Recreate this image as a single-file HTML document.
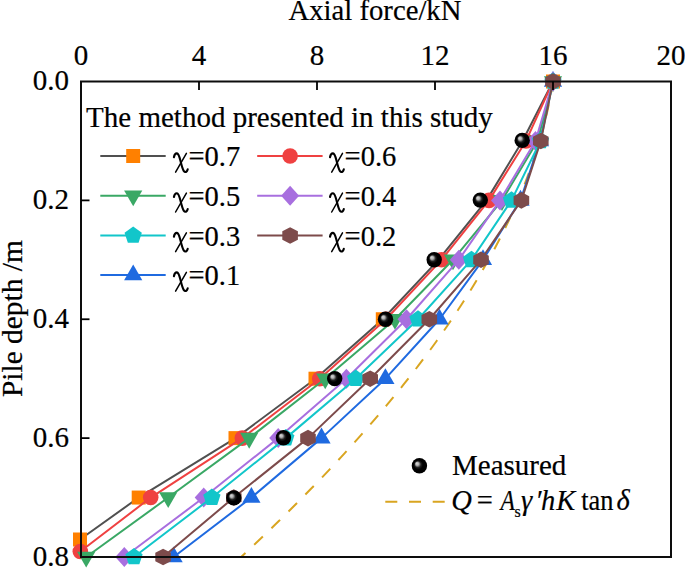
<!DOCTYPE html>
<html><head><meta charset="utf-8"><style>
html,body{margin:0;padding:0;background:#fff;}
body{width:685px;height:569px;overflow:hidden;}
svg{display:block;}
text{stroke:#000;stroke-width:0.2px;}
</style></head><body>
<svg width="685" height="569" viewBox="0 0 685 569">
<defs><radialGradient id="ballg" cx="0.5" cy="0.5" r="0.5" fx="0.32" fy="0.34"><stop offset="0" stop-color="#d8d8d8"/><stop offset="0.2" stop-color="#b4b4b4"/><stop offset="0.42" stop-color="#202020"/><stop offset="0.6" stop-color="#000"/><stop offset="1" stop-color="#000"/></radialGradient><clipPath id="clip"><rect x="60" y="60" width="640" height="520"/></clipPath></defs>
<path d="M241.13,557.00 L245.41,553.00 L249.67,549.01 L253.91,545.01 L258.12,541.02 L262.31,537.02 L266.48,533.03 L270.63,529.03 L274.75,525.03 L278.85,521.04 L282.92,517.04 L286.97,513.05 L291.00,509.05 L295.00,505.05 L298.98,501.06 L302.93,497.06 L306.86,493.07 L310.76,489.07 L314.64,485.08 L318.49,481.08 L322.32,477.08 L326.12,473.09 L329.90,469.09 L333.65,465.10 L337.38,461.10 L341.08,457.11 L344.75,453.11 L348.40,449.11 L352.02,445.12 L355.61,441.12 L359.18,437.13 L362.72,433.13 L366.24,429.13 L369.73,425.14 L373.19,421.14 L376.62,417.15 L380.02,413.15 L383.40,409.16 L386.75,405.16 L390.07,401.16 L393.37,397.17 L396.63,393.17 L399.87,389.18 L403.08,385.18 L406.26,381.18 L409.41,377.19 L412.54,373.19 L415.63,369.20 L418.69,365.20 L421.73,361.21 L424.74,357.21 L427.71,353.21 L430.66,349.22 L433.58,345.22 L436.46,341.23 L439.32,337.23 L442.15,333.24 L444.94,329.24 L447.71,325.24 L450.44,321.25 L453.15,317.25 L455.82,313.26 L458.46,309.26 L461.07,305.26 L463.65,301.27 L466.20,297.27 L468.71,293.28 L471.20,289.28 L473.65,285.29 L476.07,281.29 L478.46,277.29 L480.81,273.30 L483.14,269.30 L485.43,265.31 L487.68,261.31 L489.91,257.32 L492.10,253.32 L494.26,249.32 L496.38,245.33 L498.47,241.33 L500.53,237.34 L502.55,233.34 L504.54,229.34 L506.50,225.35 L508.42,221.35 L510.30,217.36 L512.16,213.36 L513.97,209.37 L515.76,205.37 L517.51,201.37 L519.22,197.38 L520.90,193.38 L522.54,189.39 L524.14,185.39 L525.72,181.39 L527.25,177.40 L528.75,173.40 L530.21,169.41 L531.64,165.41 L533.03,161.42 L534.39,157.42 L535.70,153.42 L536.99,149.43 L538.23,145.43 L539.44,141.44 L540.61,137.44 L541.74,133.45 L542.83,129.45 L543.89,125.45 L544.91,121.46 L545.89,117.46 L546.84,113.47 L547.74,109.47 L548.61,105.47 L549.44,101.48 L550.23,97.48 L550.98,93.49 L551.69,89.49 L552.37,85.50 L553.00,81.50" fill="none" stroke="#d9a520" stroke-width="2" stroke-dasharray="12 11.9" stroke-dashoffset="6"/>
<path d="M553.00,81.50 L540.00,140.94 L520.50,200.38 L483.00,259.81 L439.50,319.25 L385.40,378.69 L321.50,438.12 L251.40,497.56 L173.60,557.00" fill="none" stroke="#1f6ae0" stroke-width="2" stroke-linejoin="round"/>
<polygon points="543.90,86.77 562.10,86.77 553.00,70.97" fill="#1f6ae0"/>
<polygon points="530.90,146.20 549.10,146.20 540.00,130.40" fill="#1f6ae0"/>
<polygon points="511.40,205.64 529.60,205.64 520.50,189.84" fill="#1f6ae0"/>
<polygon points="473.90,265.08 492.10,265.08 483.00,249.28" fill="#1f6ae0"/>
<polygon points="430.40,324.52 448.60,324.52 439.50,308.72" fill="#1f6ae0"/>
<polygon points="376.30,383.95 394.50,383.95 385.40,368.15" fill="#1f6ae0"/>
<polygon points="312.40,443.39 330.60,443.39 321.50,427.59" fill="#1f6ae0"/>
<polygon points="242.30,502.83 260.50,502.83 251.40,487.03" fill="#1f6ae0"/>
<polygon points="164.50,562.27 182.70,562.27 173.60,546.47" fill="#1f6ae0"/>
<path d="M553.00,81.50 L522.50,140.94 L486.50,200.38 L438.50,259.81 L382.80,319.25 L315.50,378.69 L235.50,438.12 L138.70,497.56 L80.00,539.50" fill="none" stroke="#505050" stroke-width="2" stroke-linejoin="round"/>
<rect x="546.00" y="74.50" width="14" height="14" fill="#ff8000"/>
<rect x="375.80" y="312.25" width="14" height="14" fill="#ff8000"/>
<rect x="308.50" y="371.69" width="14" height="14" fill="#ff8000"/>
<rect x="228.50" y="431.12" width="14" height="14" fill="#ff8000"/>
<rect x="131.70" y="490.56" width="14" height="14" fill="#ff8000"/>
<rect x="73.00" y="532.50" width="14" height="14" fill="#ff8000"/>
<path d="M553.00,81.50 L526.00,140.94 L489.00,200.38 L441.50,259.81 L386.00,319.25 L319.70,378.69 L242.30,438.12 L150.70,497.56 L80.30,551.50" fill="none" stroke="#ef4141" stroke-width="2" stroke-linejoin="round"/>
<circle cx="553.00" cy="81.50" r="7.8" fill="#ef4141"/>
<circle cx="526.00" cy="140.94" r="7.8" fill="#ef4141"/>
<circle cx="489.00" cy="200.38" r="7.8" fill="#ef4141"/>
<circle cx="441.50" cy="259.81" r="7.8" fill="#ef4141"/>
<circle cx="386.00" cy="319.25" r="7.8" fill="#ef4141"/>
<circle cx="319.70" cy="378.69" r="7.8" fill="#ef4141"/>
<circle cx="242.30" cy="438.12" r="7.8" fill="#ef4141"/>
<circle cx="150.70" cy="497.56" r="7.8" fill="#ef4141"/>
<circle cx="80.30" cy="551.50" r="7.8" fill="#ef4141"/>
<path d="M553.00,81.50 L537.50,140.94 L502.00,200.38 L453.00,259.81 L395.00,319.25 L325.20,378.69 L249.20,438.12 L168.20,497.56 L86.20,557.00" fill="none" stroke="#3aa865" stroke-width="2" stroke-linejoin="round"/>
<polygon points="543.90,76.23 562.10,76.23 553.00,92.03" fill="#3aa865"/>
<polygon points="528.40,135.67 546.60,135.67 537.50,151.47" fill="#3aa865"/>
<polygon points="492.90,195.11 511.10,195.11 502.00,210.91" fill="#3aa865"/>
<polygon points="443.90,254.55 462.10,254.55 453.00,270.35" fill="#3aa865"/>
<polygon points="385.90,313.98 404.10,313.98 395.00,329.78" fill="#3aa865"/>
<polygon points="316.10,373.42 334.30,373.42 325.20,389.22" fill="#3aa865"/>
<polygon points="240.10,432.86 258.30,432.86 249.20,448.66" fill="#3aa865"/>
<polygon points="159.10,492.30 177.30,492.30 168.20,508.10" fill="#3aa865"/>
<polygon points="77.10,551.73 95.30,551.73 86.20,567.53" fill="#3aa865"/>
<path d="M553.00,81.50 L535.50,140.94 L500.00,200.38 L458.80,259.81 L406.50,319.25 L346.40,378.69 L278.20,438.12 L203.70,497.56 L124.30,557.00" fill="none" stroke="#a86fdf" stroke-width="2" stroke-linejoin="round"/>
<polygon points="553.00,71.50 562.00,81.50 553.00,91.50 544.00,81.50" fill="#a86fdf"/>
<polygon points="535.50,130.94 544.50,140.94 535.50,150.94 526.50,140.94" fill="#a86fdf"/>
<polygon points="500.00,190.38 509.00,200.38 500.00,210.38 491.00,200.38" fill="#a86fdf"/>
<polygon points="458.80,249.81 467.80,259.81 458.80,269.81 449.80,259.81" fill="#a86fdf"/>
<polygon points="406.50,309.25 415.50,319.25 406.50,329.25 397.50,319.25" fill="#a86fdf"/>
<polygon points="346.40,368.69 355.40,378.69 346.40,388.69 337.40,378.69" fill="#a86fdf"/>
<polygon points="278.20,428.12 287.20,438.12 278.20,448.12 269.20,438.12" fill="#a86fdf"/>
<polygon points="203.70,487.56 212.70,497.56 203.70,507.56 194.70,497.56" fill="#a86fdf"/>
<polygon points="124.30,547.00 133.30,557.00 124.30,567.00 115.30,557.00" fill="#a86fdf"/>
<path d="M553.00,81.50 L540.50,140.94 L511.50,200.38 L471.50,259.81 L418.00,319.25 L355.70,378.69 L285.80,438.12 L211.90,497.56 L134.00,557.00" fill="none" stroke="#12c6ca" stroke-width="2" stroke-linejoin="round"/>
<polygon points="553.00,72.40 561.65,78.69 558.35,88.86 547.65,88.86 544.35,78.69" fill="#12c6ca"/>
<polygon points="540.50,131.84 549.15,138.13 545.85,148.30 535.15,148.30 531.85,138.13" fill="#12c6ca"/>
<polygon points="511.50,191.28 520.15,197.56 516.85,207.74 506.15,207.74 502.85,197.56" fill="#12c6ca"/>
<polygon points="471.50,250.71 480.15,257.00 476.85,267.17 466.15,267.17 462.85,257.00" fill="#12c6ca"/>
<polygon points="418.00,310.15 426.65,316.44 423.35,326.61 412.65,326.61 409.35,316.44" fill="#12c6ca"/>
<polygon points="355.70,369.59 364.35,375.88 361.05,386.05 350.35,386.05 347.05,375.88" fill="#12c6ca"/>
<polygon points="285.80,429.02 294.45,435.31 291.15,445.49 280.45,445.49 277.15,435.31" fill="#12c6ca"/>
<polygon points="211.90,488.46 220.55,494.75 217.25,504.92 206.55,504.92 203.25,494.75" fill="#12c6ca"/>
<polygon points="134.00,547.90 142.65,554.19 139.35,564.36 128.65,564.36 125.35,554.19" fill="#12c6ca"/>
<path d="M553.00,81.50 L540.80,140.94 L521.40,200.38 L481.00,259.81 L429.30,319.25 L370.20,378.69 L308.00,438.12 L233.80,497.56 L163.10,557.00" fill="none" stroke="#7d4b4b" stroke-width="2" stroke-linejoin="round"/>
<polygon points="553.00,73.20 560.80,77.35 560.80,85.65 553.00,89.80 545.20,85.65 545.20,77.35" fill="#7d4b4b"/>
<polygon points="540.80,132.64 548.60,136.79 548.60,145.09 540.80,149.24 533.00,145.09 533.00,136.79" fill="#7d4b4b"/>
<polygon points="521.40,192.07 529.20,196.22 529.20,204.53 521.40,208.68 513.60,204.53 513.60,196.22" fill="#7d4b4b"/>
<polygon points="481.00,251.51 488.80,255.66 488.80,263.96 481.00,268.11 473.20,263.96 473.20,255.66" fill="#7d4b4b"/>
<polygon points="429.30,310.95 437.10,315.10 437.10,323.40 429.30,327.55 421.50,323.40 421.50,315.10" fill="#7d4b4b"/>
<polygon points="370.20,370.39 378.00,374.54 378.00,382.84 370.20,386.99 362.40,382.84 362.40,374.54" fill="#7d4b4b"/>
<polygon points="308.00,429.82 315.80,433.98 315.80,442.27 308.00,446.43 300.20,442.27 300.20,433.98" fill="#7d4b4b"/>
<polygon points="233.80,489.26 241.60,493.41 241.60,501.71 233.80,505.86 226.00,501.71 226.00,493.41" fill="#7d4b4b"/>
<polygon points="163.10,548.70 170.90,552.85 170.90,561.15 163.10,565.30 155.30,561.15 155.30,552.85" fill="#7d4b4b"/>
<circle cx="522.20" cy="140.40" r="7.7" fill="url(#ballg)"/>
<circle cx="480.30" cy="200.10" r="7.7" fill="url(#ballg)"/>
<circle cx="434.20" cy="259.70" r="7.7" fill="url(#ballg)"/>
<circle cx="385.50" cy="319.30" r="7.7" fill="url(#ballg)"/>
<circle cx="334.70" cy="378.60" r="7.7" fill="url(#ballg)"/>
<circle cx="283.40" cy="437.80" r="7.7" fill="url(#ballg)"/>
<circle cx="233.80" cy="497.90" r="7.7" fill="url(#ballg)"/>
<rect x="81" y="81.5" width="590" height="475.5" fill="none" stroke="#0d0d0d" stroke-width="2"/>
<line x1="199.0" y1="81.5" x2="199.0" y2="90" stroke="#000" stroke-width="1.8"/>
<line x1="317.0" y1="81.5" x2="317.0" y2="90" stroke="#000" stroke-width="1.8"/>
<line x1="435.0" y1="81.5" x2="435.0" y2="90" stroke="#000" stroke-width="1.8"/>
<line x1="553.0" y1="81.5" x2="553.0" y2="90" stroke="#000" stroke-width="1.8"/>
<line x1="81" y1="200.38" x2="89.5" y2="200.38" stroke="#000" stroke-width="1.8"/>
<line x1="81" y1="319.25" x2="89.5" y2="319.25" stroke="#000" stroke-width="1.8"/>
<line x1="81" y1="438.12" x2="89.5" y2="438.12" stroke="#000" stroke-width="1.8"/>
<text x="375" y="20.3" text-anchor="middle" font-family="Liberation Serif" font-size="28.7">Axial force/kN</text>
<text x="81.0" y="64.8" text-anchor="middle" font-family="Liberation Serif" font-size="29">0</text>
<text x="199.0" y="64.8" text-anchor="middle" font-family="Liberation Serif" font-size="29">4</text>
<text x="317.0" y="64.8" text-anchor="middle" font-family="Liberation Serif" font-size="29">8</text>
<text x="435.0" y="64.8" text-anchor="middle" font-family="Liberation Serif" font-size="29">12</text>
<text x="553.0" y="64.8" text-anchor="middle" font-family="Liberation Serif" font-size="29">16</text>
<text x="671.0" y="64.8" text-anchor="middle" font-family="Liberation Serif" font-size="29">20</text>
<text x="69" y="90.0" text-anchor="end" font-family="Liberation Serif" font-size="29">0.0</text>
<text x="69" y="208.9" text-anchor="end" font-family="Liberation Serif" font-size="29">0.2</text>
<text x="69" y="327.8" text-anchor="end" font-family="Liberation Serif" font-size="29">0.4</text>
<text x="69" y="446.6" text-anchor="end" font-family="Liberation Serif" font-size="29">0.6</text>
<text x="69" y="565.5" text-anchor="end" font-family="Liberation Serif" font-size="29">0.8</text>
<text transform="translate(22,318.6) rotate(-90)" text-anchor="middle" font-family="Liberation Serif" font-size="29.4">Pile depth /m</text>
<text x="86.1" y="127.1" font-family="Liberation Serif" font-size="29">The method presented in this study</text>
<line x1="100.3" y1="156" x2="165.7" y2="156" stroke="#505050" stroke-width="2"/>
<rect x="126.20" y="149.00" width="14" height="14" fill="#ff8000"/>
<g transform="translate(174.10,166.20)" fill="none" stroke="#000" stroke-linecap="round"><path d="M-0.2,-9 C0.3,-11.5 1.5,-12.9 2.8,-12.8 C4.3,-12.6 5.3,-9.5 6.2,-6 C7.2,-2 8.2,2.5 9.6,4.6 C10.5,5.9 11.5,6.1 12.3,5.4 C12.9,4.9 13.3,4 13.6,3.1" stroke-width="2.1"/><path d="M12.3,-12.9 L1.5,6.0" stroke-width="1.5"/></g>
<text x="188.48" y="166.2" font-family="Liberation Serif" font-size="28.5">=0.7</text>
<line x1="257.2" y1="156" x2="322.6" y2="156" stroke="#ef4141" stroke-width="2"/>
<circle cx="290.10" cy="156.00" r="7.8" fill="#ef4141"/>
<g transform="translate(330.20,166.20)" fill="none" stroke="#000" stroke-linecap="round"><path d="M-0.2,-9 C0.3,-11.5 1.5,-12.9 2.8,-12.8 C4.3,-12.6 5.3,-9.5 6.2,-6 C7.2,-2 8.2,2.5 9.6,4.6 C10.5,5.9 11.5,6.1 12.3,5.4 C12.9,4.9 13.3,4 13.6,3.1" stroke-width="2.1"/><path d="M12.3,-12.9 L1.5,6.0" stroke-width="1.5"/></g>
<text x="344.58" y="166.2" font-family="Liberation Serif" font-size="28.5">=0.6</text>
<line x1="100.3" y1="195.8" x2="165.7" y2="195.8" stroke="#3aa865" stroke-width="2"/>
<polygon points="124.10,190.53 142.30,190.53 133.20,206.33" fill="#3aa865"/>
<g transform="translate(174.10,206.00)" fill="none" stroke="#000" stroke-linecap="round"><path d="M-0.2,-9 C0.3,-11.5 1.5,-12.9 2.8,-12.8 C4.3,-12.6 5.3,-9.5 6.2,-6 C7.2,-2 8.2,2.5 9.6,4.6 C10.5,5.9 11.5,6.1 12.3,5.4 C12.9,4.9 13.3,4 13.6,3.1" stroke-width="2.1"/><path d="M12.3,-12.9 L1.5,6.0" stroke-width="1.5"/></g>
<text x="188.48" y="206.0" font-family="Liberation Serif" font-size="28.5">=0.5</text>
<line x1="257.2" y1="195.8" x2="322.6" y2="195.8" stroke="#a86fdf" stroke-width="2"/>
<polygon points="290.10,185.80 299.10,195.80 290.10,205.80 281.10,195.80" fill="#a86fdf"/>
<g transform="translate(330.20,206.00)" fill="none" stroke="#000" stroke-linecap="round"><path d="M-0.2,-9 C0.3,-11.5 1.5,-12.9 2.8,-12.8 C4.3,-12.6 5.3,-9.5 6.2,-6 C7.2,-2 8.2,2.5 9.6,4.6 C10.5,5.9 11.5,6.1 12.3,5.4 C12.9,4.9 13.3,4 13.6,3.1" stroke-width="2.1"/><path d="M12.3,-12.9 L1.5,6.0" stroke-width="1.5"/></g>
<text x="344.58" y="206.0" font-family="Liberation Serif" font-size="28.5">=0.4</text>
<line x1="100.3" y1="235.5" x2="165.7" y2="235.5" stroke="#12c6ca" stroke-width="2"/>
<polygon points="133.20,226.40 141.85,232.69 138.55,242.86 127.85,242.86 124.55,232.69" fill="#12c6ca"/>
<g transform="translate(174.10,245.70)" fill="none" stroke="#000" stroke-linecap="round"><path d="M-0.2,-9 C0.3,-11.5 1.5,-12.9 2.8,-12.8 C4.3,-12.6 5.3,-9.5 6.2,-6 C7.2,-2 8.2,2.5 9.6,4.6 C10.5,5.9 11.5,6.1 12.3,5.4 C12.9,4.9 13.3,4 13.6,3.1" stroke-width="2.1"/><path d="M12.3,-12.9 L1.5,6.0" stroke-width="1.5"/></g>
<text x="188.48" y="245.7" font-family="Liberation Serif" font-size="28.5">=0.3</text>
<line x1="257.2" y1="235.5" x2="322.6" y2="235.5" stroke="#7d4b4b" stroke-width="2"/>
<polygon points="290.10,227.20 297.90,231.35 297.90,239.65 290.10,243.80 282.30,239.65 282.30,231.35" fill="#7d4b4b"/>
<g transform="translate(330.20,245.70)" fill="none" stroke="#000" stroke-linecap="round"><path d="M-0.2,-9 C0.3,-11.5 1.5,-12.9 2.8,-12.8 C4.3,-12.6 5.3,-9.5 6.2,-6 C7.2,-2 8.2,2.5 9.6,4.6 C10.5,5.9 11.5,6.1 12.3,5.4 C12.9,4.9 13.3,4 13.6,3.1" stroke-width="2.1"/><path d="M12.3,-12.9 L1.5,6.0" stroke-width="1.5"/></g>
<text x="344.58" y="245.7" font-family="Liberation Serif" font-size="28.5">=0.2</text>
<line x1="100.3" y1="275" x2="165.7" y2="275" stroke="#1f6ae0" stroke-width="2"/>
<polygon points="124.10,280.27 142.30,280.27 133.20,264.47" fill="#1f6ae0"/>
<g transform="translate(174.10,285.20)" fill="none" stroke="#000" stroke-linecap="round"><path d="M-0.2,-9 C0.3,-11.5 1.5,-12.9 2.8,-12.8 C4.3,-12.6 5.3,-9.5 6.2,-6 C7.2,-2 8.2,2.5 9.6,4.6 C10.5,5.9 11.5,6.1 12.3,5.4 C12.9,4.9 13.3,4 13.6,3.1" stroke-width="2.1"/><path d="M12.3,-12.9 L1.5,6.0" stroke-width="1.5"/></g>
<text x="188.48" y="285.2" font-family="Liberation Serif" font-size="28.5">=0.1</text>
<circle cx="419.40" cy="465.80" r="7.7" fill="url(#ballg)"/>
<text x="452" y="475.1" font-family="Liberation Serif" font-size="29">Measured</text>
<line x1="385.3" y1="501.7" x2="444.8" y2="501.7" stroke="#d9a520" stroke-width="2" stroke-dasharray="12 11.7"/>
<text transform="translate(500.6,510.1) scale(0.83,1)" x="0" y="0" font-family="Liberation Serif" font-style="italic" font-size="28.5">A</text>
<text x="451.2" y="510.1" font-family="Liberation Serif" font-style="italic" font-size="28.5">Q</text>
<text x="476.8" y="510.1" font-family="Liberation Serif" font-size="28.5">=</text>
<text x="521.0" y="510.1" font-family="Liberation Serif" font-style="italic" font-size="28.5">γ</text>
<text x="535.3" y="510.1" font-family="Liberation Serif" font-style="italic" font-size="28.5">′</text>
<text x="541.0" y="510.1" font-family="Liberation Serif" font-style="italic" font-size="28.5">h</text>
<text x="556.3" y="510.1" font-family="Liberation Serif" font-style="italic" font-size="28.5">K</text>
<text x="616.6" y="510.1" font-family="Liberation Serif" font-style="italic" font-size="28.5">δ</text>
<text x="581.3" y="510.1" font-family="Liberation Serif" font-size="28.5" textLength="32.2" lengthAdjust="spacingAndGlyphs">tan</text>
<text x="514.6" y="517.1" font-family="Liberation Serif" font-size="16">s</text>
</svg>
</body></html>
